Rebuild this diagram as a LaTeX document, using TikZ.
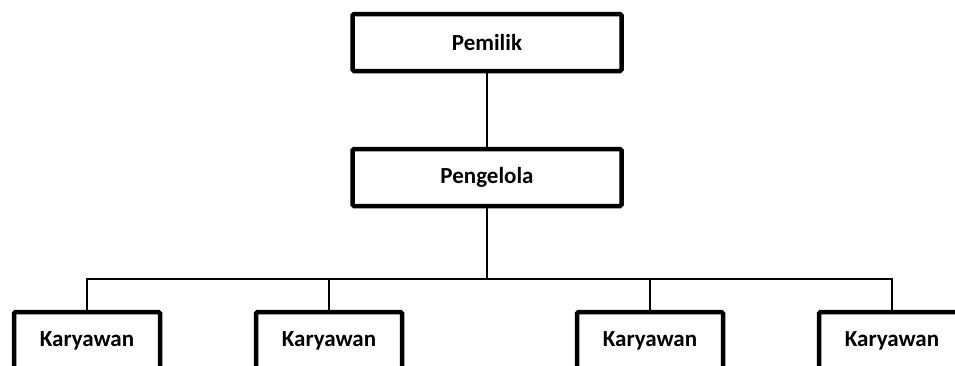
\documentclass[tikz,border=0pt]{standalone}
\usepackage{fontspec}
\setmainfont{Carlito}
\usetikzlibrary{positioning}
\tikzset{
  orgbox/.style={rectangle, draw, line width=4.5pt, rounded corners=1.5pt, minimum height=57pt,
                 inner sep=2pt, font=\fontsize{23}{26}\selectfont\bfseries, fill=white},
  topbox/.style={orgbox, minimum width=269pt},
  staffbox/.style={orgbox, minimum width=146pt},
  link/.style={line width=1.3pt},
}
\begin{document}
\begin{tikzpicture}[x=1pt, y=-1pt]
  \clip (0,0) rectangle (955,365);
  \useasboundingbox (0,0) rectangle (955,365);
  \node[topbox] (owner) at (487,42.5) {Pemilik};
  \node[topbox] (manager) at (487,177.5) {Pengelola};
  \node[staffbox] (staff1) at (87,340.5) {Karyawan};
  \node[staffbox] (staff2) at (329,340.5) {Karyawan};
  \node[staffbox] (staff3) at (650,340.5) {Karyawan};
  \node[staffbox] (staff4) at (892,340.5) {Karyawan};

  \coordinate (bar) at (487,279);
  \draw[link] (owner.south) -- (manager.north);
  \draw[link] (manager.south) -- (bar);
  \draw[link] (bar) -| (staff1.north);
  \draw[link] (bar) -| (staff2.north);
  \draw[link] (bar) -| (staff3.north);
  \draw[link] (bar) -| (staff4.north);
\end{tikzpicture}
\end{document}
